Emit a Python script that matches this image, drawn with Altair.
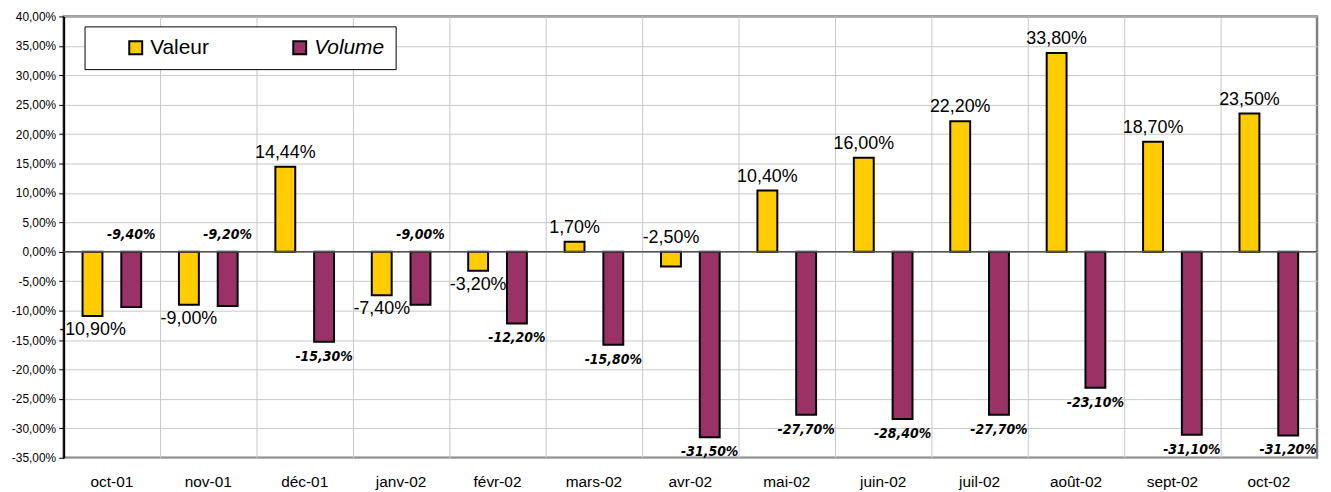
import altair as alt
import pandas as pd

months = ["oct-01", "nov-01", "déc-01", "janv-02", "févr-02", "mars-02", "avr-02",
          "mai-02", "juin-02", "juil-02", "août-02", "sept-02", "oct-02"]
valeur = [-10.90, -9.00, 14.44, -7.40, -3.20, 1.70, -2.50, 10.40, 16.00, 22.20, 33.80, 18.70, 23.50]
volume = [-9.40, -9.20, -15.30, -9.00, -12.20, -15.80, -31.50, -27.70, -28.40, -27.70, -23.10, -31.10, -31.20]
series = ["Valeur", "Volume"]
colors = ["#FFCC00", "#993366"]
y_ticks = [-35, -30, -25, -20, -15, -10, -5, 0, 5, 10, 15, 20, 25, 30, 35, 40]

rows = []
for m, a, b in zip(months, valeur, volume):
    rows.append({"mois": m, "serie": "Valeur", "v": a})
    rows.append({"mois": m, "serie": "Volume", "v": b})
df = pd.DataFrame(rows)

fmt = "(datum.v < 0 ? '-' : '') + replace(format(abs(datum.v), '.2f'), '.', ',') + '%'"
axis_fmt = "(datum.value < 0 ? '-' : '') + replace(format(abs(datum.value), '.2f'), '.', ',') + '%'"

yscale = alt.Scale(domain=[-35, 40], nice=False, zero=False)
y_axis = alt.Axis(title=None, values=y_ticks, labelExpr=axis_fmt,
                  labelOverlap=False,
                  labelFont="Liberation Sans", labelFontSize=12, labelColor="#000",
                  tickColor="#000", tickSize=5, labelPadding=3,
                  domainColor="#000", domainWidth=2,
                  grid=True, gridColor="#c8c8c8", gridWidth=1)

x_axis = alt.Axis(title=None, labelFont="Liberation Sans", labelFontSize=15.5,
                  labelColor="#000", labelPadding=17, ticks=False, domain=False,
                  grid=True, gridColor="#c8c8c8", gridWidth=1, bandPosition=0,
                  labelAngle=0)
xscale = alt.Scale(paddingInner=0, paddingOuter=0)
x_enc = alt.X("mois:N", sort=months, scale=xscale, axis=x_axis)
xoff = alt.XOffset("serie:N", sort=series,
                   scale=alt.Scale(paddingInner=0.487, paddingOuter=0.487))

base = alt.Chart(df)

bars = base.mark_bar(stroke="#000", strokeWidth=2).encode(
    x=x_enc,
    xOffset=xoff,
    y=alt.Y("v:Q", scale=yscale, axis=y_axis),
    color=alt.Color("serie:N", sort=series,
                    scale=alt.Scale(domain=series, range=colors),
                    legend=alt.Legend(title=None, orient="none", legendX=21, legendY=10,
                                      direction="horizontal", symbolType="square",
                                      symbolSize=169, symbolStrokeColor="#000",
                                      symbolStrokeWidth=2, symbolOffset=30,
                                      labelFont="Liberation Sans", labelFontSize=21,
                                      labelColor="#000", labelOffset=4,
                                      labelFontStyle=alt.ExprRef("datum.label == 'Volume' ? 'italic' : 'normal'"),
                                      columnPadding=50, padding=11,
                                      fillColor="#ffffff", strokeColor="#000",
                                      labelLimit=200)),
)

zero = alt.Chart(pd.DataFrame({"z": [0]})).mark_rule(color="#555", strokeWidth=1.5).encode(
    y=alt.Y("z:Q", scale=yscale, axis=y_axis)
)

val_font = dict(font="Liberation Sans", fontSize=18, color="#000")
vol_font = dict(font="DejaVu Sans Condensed, Liberation Sans Narrow, sans-serif", fontSize=14,
                fontStyle="italic", fontWeight="bold", color="#000")

def lbl(filt, yexpr, baseline, dy, style):
    return base.transform_filter(filt).transform_calculate(
        ly=yexpr, txt=fmt
    ).mark_text(baseline=baseline, dy=dy, **style).encode(
        x=x_enc, xOffset=xoff,
        y=alt.Y("ly:Q", scale=yscale, axis=y_axis), text="txt:N")

val_up = lbl("datum.serie == 'Valeur' && datum.v > -3", "max(datum.v, 0)", "bottom", -5, val_font)
val_dn = lbl("datum.serie == 'Valeur' && datum.v <= -3", "datum.v", "top", 5, val_font)
vol_up = lbl("datum.serie == 'Volume' && datum.v > -10", "0", "bottom", -10, vol_font)
vol_dn = lbl("datum.serie == 'Volume' && datum.v <= -10", "datum.v", "top", 8, vol_font)

chart = alt.layer(bars, zero, val_up, val_dn, vol_up, vol_dn).properties(
    width=1261, height=444,
    autosize=alt.AutoSizeParams(type="none"),
    padding={"left": 56, "top": 7, "right": 6, "bottom": 40},
    background="#ffffff",
).configure_view(stroke="#808080", strokeWidth=2.5).configure_axisY(labelOverlap=False)

chart.save("out.html", embed_options={"renderer": "svg", "actions": False})
